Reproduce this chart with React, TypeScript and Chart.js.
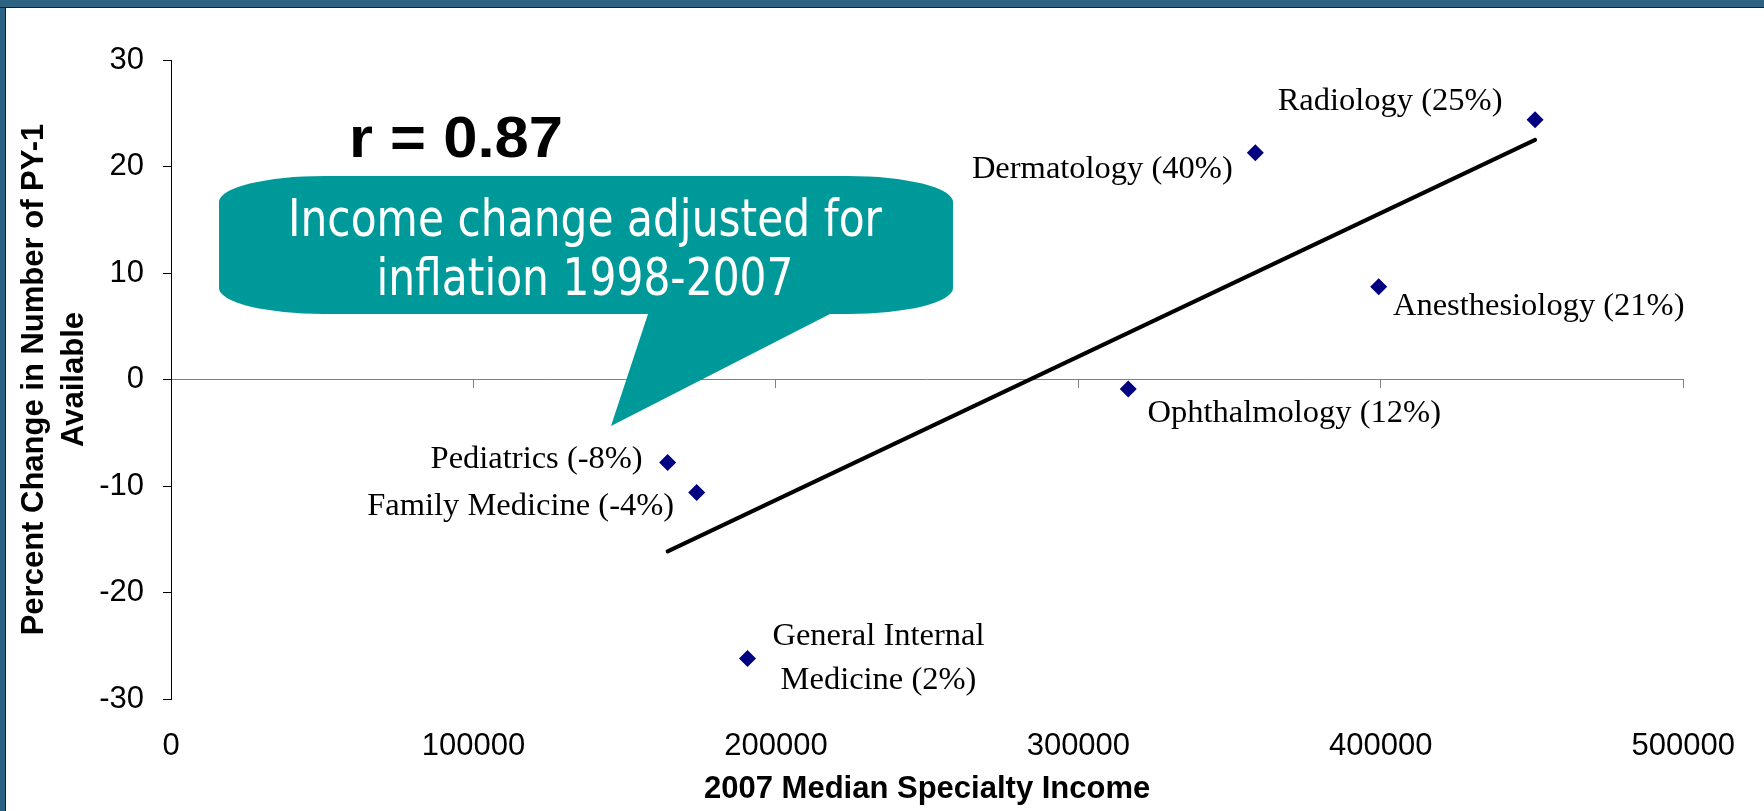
import React, { useEffect, useRef } from "react";
import { Chart, registerables } from "chart.js";

Chart.register(...registerables);

const W = 1764;
const H = 811;

// ---------- data ----------
const specialtyLabels: string[][] = [
  ["Radiology (25%)"],
  ["Dermatology (40%)"],
  ["Anesthesiology (21%)"],
  ["Ophthalmology (12%)"],
  ["Pediatrics (-8%)"],
  ["Family Medicine (-4%)"],
  ["General Internal", "Medicine (2%)"],
];
const medianIncome = [451000, 358500, 399300, 316500, 164200, 173800, 190600];
const pctChangePY1 = [24.4, 21.3, 8.7, -0.9, -7.8, -10.6, -26.2];
const xTicks = [0, 100000, 200000, 300000, 400000, 500000];
const yTicks = [-30, -20, -10, 0, 10, 20, 30];
const xTitle = "2007 Median Specialty Income";
const yTitle = ["Percent Change in Number of PY-1", "Available"];
const rText = "r = 0.87";
const calloutLines = ["Income change adjusted for", "inflation 1998-2007"];

// ---------- label placement (style, px relative to point) ----------
const labelOffsets: number[][] = [
  [-145, -18],
  [-153, 17],
  [160, 20],
  [166, 24],
  [-131, -3],
  [-176, 14],
  [131, 0],
];

// least-squares trend line over the data range
function trend(xs: number[], ys: number[]) {
  const n = xs.length;
  const mx = xs.reduce((a, b) => a + b, 0) / n;
  const my = ys.reduce((a, b) => a + b, 0) / n;
  let sxy = 0;
  let sxx = 0;
  for (let i = 0; i < n; i++) {
    sxy += (xs[i] - mx) * (ys[i] - my);
    sxx += (xs[i] - mx) * (xs[i] - mx);
  }
  const b = sxy / sxx;
  const a = my - b * mx;
  const x0 = Math.min(...xs);
  const x1 = Math.max(...xs);
  return [
    { x: x0, y: a + b * x0 },
    { x: x1, y: a + b * x1 },
  ];
}

function fitText(ctx: CanvasRenderingContext2D, text: string, cx: number, y: number, targetW: number) {
  const w = ctx.measureText(text).width;
  const sx = targetW / w;
  ctx.save();
  ctx.translate(cx, y);
  ctx.scale(sx, 1);
  ctx.textAlign = "center";
  ctx.fillText(text, 0, 0);
  ctx.restore();
}

const decor = {
  id: "decor",
  beforeDraw(chart: any) {
    const ctx = chart.ctx;
    ctx.save();
    ctx.fillStyle = "#ffffff";
    ctx.fillRect(0, 0, chart.width, chart.height);
    ctx.restore();
  },
  afterDatasetsDraw(chart: any) {
    const ctx: CanvasRenderingContext2D = chart.ctx;
    const xs = chart.scales.x;
    const ys = chart.scales.y;
    ctx.save();
    ctx.fillStyle = "#000000";
    ctx.font = "32.5px 'Liberation Serif', 'Times New Roman', serif";
    ctx.textAlign = "center";
    ctx.textBaseline = "middle";
    specialtyLabels.forEach((lines, i) => {
      const px = xs.getPixelForValue(medianIncome[i]);
      const py = ys.getPixelForValue(pctChangePY1[i]);
      const [dx, dy] = labelOffsets[i];
      lines.forEach((ln, j) => {
        const yy = py + dy + (j - (lines.length - 1) / 2) * 44;
        ctx.fillText(ln, px + dx, yy);
      });
    });
    ctx.restore();
  },
  afterDraw(chart: any) {
    const ctx: CanvasRenderingContext2D = chart.ctx;
    ctx.save();
    // r value
    ctx.fillStyle = "#000000";
    ctx.font = "bold 58px 'Liberation Sans', Arial, sans-serif";
    ctx.textBaseline = "alphabetic";
    fitText(ctx, rText, 456, 157, 214);

    // callout
    const x0 = 219, x1 = 953, y0 = 176, y1 = 314, rx = 105, ry = 26;
    ctx.beginPath();
    ctx.moveTo(x0 + rx, y0);
    ctx.lineTo(x1 - rx, y0);
    ctx.ellipse(x1 - rx, y0 + ry, rx, ry, 0, -Math.PI / 2, 0);
    ctx.lineTo(x1, y1 - ry);
    ctx.ellipse(x1 - rx, y1 - ry, rx, ry, 0, 0, Math.PI / 2);
    ctx.lineTo(830, y1);
    ctx.lineTo(611, 426);
    ctx.lineTo(648, y1);
    ctx.lineTo(x0 + rx, y1);
    ctx.ellipse(x0 + rx, y1 - ry, rx, ry, 0, Math.PI / 2, Math.PI);
    ctx.lineTo(x0, y0 + ry);
    ctx.ellipse(x0 + rx, y0 + ry, rx, ry, 0, Math.PI, Math.PI * 1.5);
    ctx.closePath();
    ctx.fillStyle = "#009999";
    ctx.fill();

    ctx.fillStyle = "#ffffff";
    ctx.font = "51px 'DejaVu Sans', sans-serif";
    const w1 = ctx.measureText(calloutLines[0]).width;
    const sx = 594 / w1;
    calloutLines.forEach((ln, j) => {
      const w = ctx.measureText(ln).width;
      fitText(ctx, ln, 585, j === 0 ? 236 : 295, w * sx);
    });

    // frame
    ctx.fillStyle = "#2c6383";
    ctx.fillRect(0, 0, chart.width, 7);
    ctx.fillRect(0, 0, 5, chart.height);
    ctx.fillStyle = "#1b1b1b";
    ctx.fillRect(0, 7, chart.width, 1);
    ctx.fillRect(5, 7, 1, chart.height - 7);
    ctx.restore();
  },
};

export default function App() {
  const ref = useRef<HTMLCanvasElement>(null);
  useEffect(() => {
    document.body.style.margin = "0";
    const canvas = ref.current!;
    const tickFont = { family: "'Liberation Sans', Arial, sans-serif", size: 31 };
    const chart = new Chart(canvas, {
      type: "scatter",
      data: {
        datasets: [
          {
            type: "scatter",
            data: medianIncome.map((x, i) => ({ x, y: pctChangePY1[i] })),
            pointStyle: "rectRot",
            pointRadius: 8.5,
            pointHoverRadius: 8.5,
            backgroundColor: "#000080",
            borderColor: "#000080",
            borderWidth: 0,
            order: 1,
          },
          {
            type: "line",
            data: trend(medianIncome, pctChangePY1),
            borderColor: "#000000",
            borderWidth: 4,
            borderCapStyle: "round",
            pointRadius: 0,
            fill: false,
            order: 2,
          } as any,
        ],
      },
      options: {
        animation: false,
        responsive: false,
        devicePixelRatio: 1,
        events: [],
        layout: { padding: { left: 0, top: 60, right: 79, bottom: 0 } },
        plugins: { legend: { display: false }, tooltip: { enabled: false } },
        scales: {
          x: {
            type: "linear",
            position: "bottom",
            min: xTicks[0],
            max: xTicks[xTicks.length - 1],
            afterBuildTicks: (s: any) => {
              s.ticks = xTicks.map((v) => ({ value: v }));
            },
            afterFit: (s: any) => {
              s.height = 112;
            },
            border: { display: false },
            grid: { display: false, drawTicks: false },
            ticks: {
              color: "#000000",
              font: tickFont,
              padding: 29,
              maxRotation: 0,
              autoSkip: false,
              callback: (v: any) => String(v),
            },
            title: {
              display: true,
              text: xTitle,
              color: "#000000",
              font: { family: "'Liberation Sans', Arial, sans-serif", size: 31, weight: "bold", lineHeight: 1.2 },
              padding: { top: 0, bottom: 3 },
            },
          },
          x0: {
            type: "linear",
            position: { y: 0 } as any,
            min: xTicks[0],
            max: xTicks[xTicks.length - 1],
            afterBuildTicks: (s: any) => {
              s.ticks = xTicks.map((v) => ({ value: v }));
            },
            border: { display: true, color: "#808080", width: 1 },
            grid: { display: true, drawOnChartArea: false, drawTicks: true, tickLength: 8, color: "#808080" },
            ticks: { display: false },
          },
          y: {
            type: "linear",
            position: "left",
            min: yTicks[0],
            max: yTicks[yTicks.length - 1],
            afterBuildTicks: (s: any) => {
              s.ticks = yTicks.map((v) => ({ value: v }));
            },
            afterFit: (s: any) => {
              s.width = 171;
            },
            border: { display: true, color: "#000000", width: 1 },
            grid: { display: true, drawOnChartArea: false, drawTicks: true, tickLength: 8, color: "#000000" },
            ticks: { color: "#000000", font: tickFont, padding: 19, callback: (v: any) => String(v) },
            title: {
              display: true,
              text: yTitle,
              color: "#000000",
              font: { family: "'Liberation Sans', Arial, sans-serif", size: 31, weight: "bold", lineHeight: 40 / 31 },
              padding: { top: 14, bottom: 0 },
            },
          },
        },
      },
      plugins: [decor],
    } as any);
    return () => chart.destroy();
  }, []);
  return (
    <div style={{ position: "fixed", left: 0, top: 0, width: W, height: H }}>
      <canvas ref={ref} width={W} height={H} style={{ display: "block", width: W, height: H }} />
    </div>
  );
}
